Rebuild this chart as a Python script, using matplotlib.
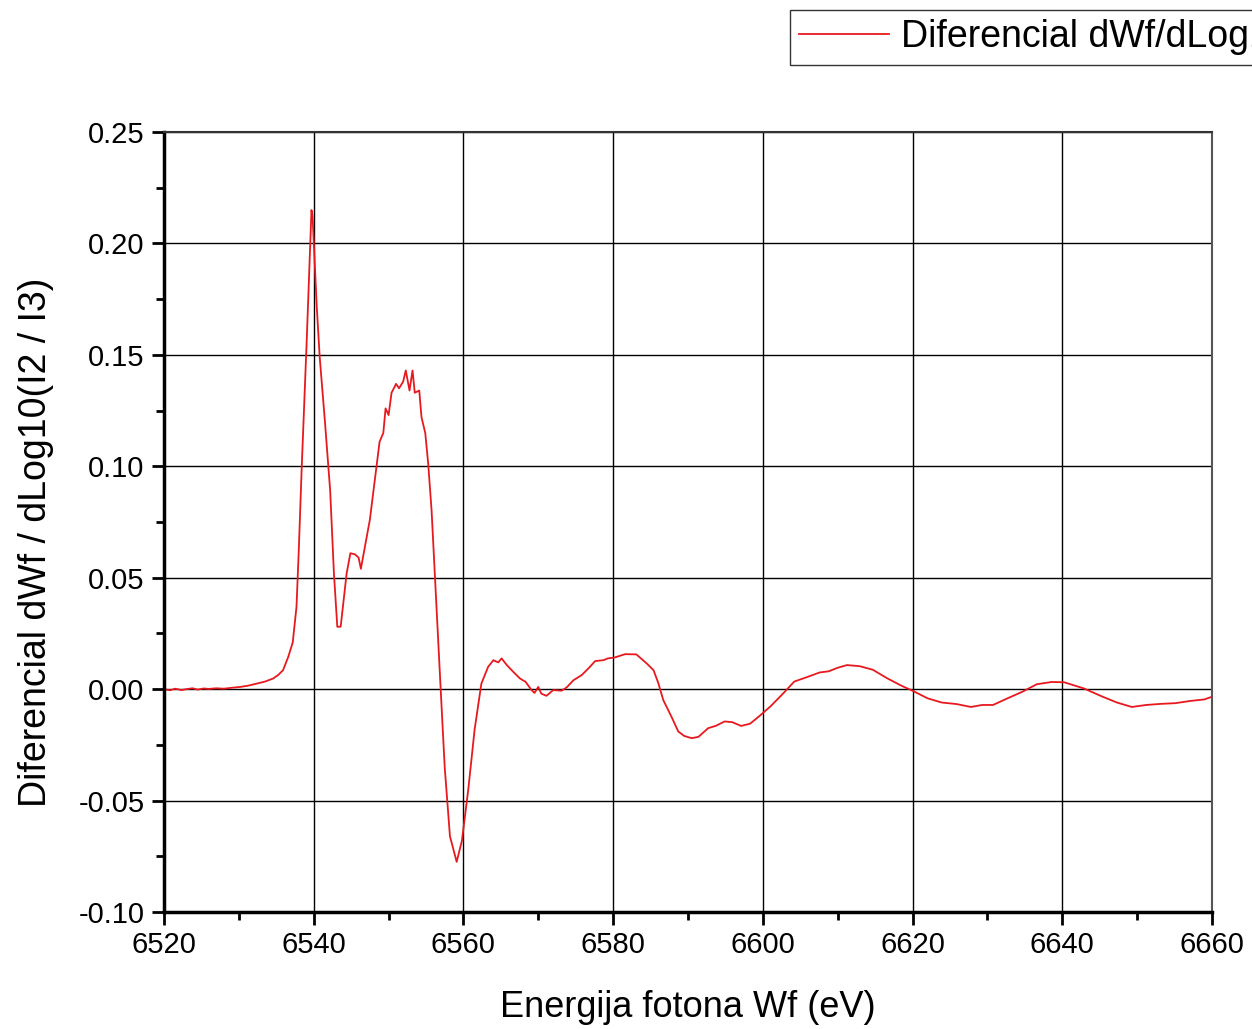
import matplotlib
matplotlib.use('Agg')
import matplotlib.pyplot as plt
from matplotlib.ticker import MultipleLocator, FormatStrFormatter

plt.rcParams['font.family'] = ['Liberation Sans', 'DejaVu Sans']
plt.rcParams['axes.unicode_minus'] = False

# energija (eV) i diferencijal, očitano sa slike
energy = [6520.0, 6520.8, 6521.5, 6522.3, 6523.0, 6523.8, 6524.5, 6525.3, 6526.0, 6527.0,
          6528.0, 6529.0, 6530.2, 6531.3, 6532.4, 6533.5, 6534.6, 6535.3, 6535.9, 6536.6,
          6537.2, 6537.7, 6538.0, 6538.4, 6539.06, 6539.5, 6539.7, 6539.85, 6540.0, 6540.4,
          6540.8, 6541.5, 6542.2, 6542.7, 6543.15, 6543.6, 6544.4, 6544.9, 6545.5, 6546.0,
          6546.3, 6546.85, 6547.5, 6548.2, 6548.8, 6549.3, 6549.6, 6550.0, 6550.4, 6551.0,
          6551.4, 6551.95, 6552.3, 6552.8, 6553.2, 6553.5, 6554.1, 6554.4, 6554.9, 6555.3,
          6555.75, 6556.2, 6556.9, 6557.5, 6558.2, 6559.1, 6559.8, 6560.65, 6561.5, 6562.4,
          6563.3, 6564.0, 6564.65, 6565.1, 6565.8, 6566.65, 6567.55, 6568.3, 6569.1, 6569.5,
          6570.0, 6570.4, 6571.1, 6572.0, 6573.1, 6573.8, 6574.7, 6575.8, 6576.7, 6577.6,
          6578.7, 6579.3, 6580.2, 6581.6, 6583.1, 6584.5, 6585.4, 6586.05, 6586.7, 6587.8,
          6588.7, 6589.5, 6590.5, 6591.4, 6592.7, 6593.7, 6594.9, 6595.9, 6597.1, 6598.3,
          6599.5, 6601.0, 6602.5, 6604.2, 6605.9, 6607.6, 6608.8, 6610.0, 6611.25, 6612.95,
          6614.7, 6616.6, 6618.6, 6620.0, 6622.0, 6623.9, 6625.9, 6627.8, 6629.3, 6630.75,
          6632.7, 6634.65, 6636.6, 6638.55, 6640.25, 6642.9, 6645.4, 6647.3, 6649.3, 6651.2,
          6653.2, 6655.1, 6657.1, 6659.0, 6660.0]
diff = [0.0, -0.0005, 0.0002, -0.0004, 0.0, 0.0004, -0.0002, 0.0003, 0.0001, 0.0004,
        0.0002, 0.0006, 0.001, 0.0016, 0.0025, 0.0034, 0.0048, 0.0065, 0.0085, 0.0145,
        0.021, 0.037, 0.062, 0.0997, 0.156, 0.196, 0.215, 0.212, 0.201, 0.172,
        0.149, 0.120, 0.089, 0.052, 0.028, 0.028, 0.052, 0.061, 0.0605, 0.059,
        0.054, 0.064, 0.076, 0.095, 0.111, 0.115, 0.126, 0.123, 0.133, 0.137,
        0.135, 0.138, 0.143, 0.134, 0.143, 0.133, 0.134, 0.122, 0.115, 0.101,
        0.080, 0.050, 0.004, -0.035, -0.066, -0.0775, -0.068, -0.045, -0.018, 0.0025,
        0.010, 0.013, 0.012, 0.0138, 0.0108, 0.0078, 0.0048, 0.0033, -0.0004, -0.0017,
        0.001, -0.002, -0.003, -0.0004, -0.0007, 0.0008, 0.004, 0.0063, 0.0093, 0.0126,
        0.013, 0.0138, 0.0142, 0.0157, 0.0156, 0.0115, 0.0085, 0.0026, -0.0049, -0.0124,
        -0.019, -0.021, -0.022, -0.0214, -0.0175, -0.0165, -0.0145, -0.0148, -0.0165, -0.0155,
        -0.0122, -0.0078, -0.0027, 0.0034, 0.0054, 0.0075, 0.008, 0.0096, 0.0108, 0.0103,
        0.0087, 0.0049, 0.0014, -0.0007, -0.0041, -0.006, -0.0067, -0.008, -0.0071, -0.0071,
        -0.0041, -0.0012, 0.0022, 0.0032, 0.0031, 0.0003, -0.0034, -0.006, -0.008, -0.0071,
        -0.0066, -0.0063, -0.0053, -0.0046, -0.0034]

fig = plt.figure(figsize=(12.52, 10.29), dpi=100)
ax = fig.add_axes([0.131, 0.1137, 0.837, 0.758])

line, = ax.plot(energy, diff, color='#e8191e', linewidth=1.3, label='Diferencial dWf/dLog10(I2 / I3)')

ax.set_xlim(6520, 6660)
ax.set_ylim(-0.10, 0.25)
ax.xaxis.set_major_locator(MultipleLocator(20))
ax.xaxis.set_minor_locator(MultipleLocator(10))
ax.yaxis.set_major_locator(MultipleLocator(0.05))
ax.yaxis.set_minor_locator(MultipleLocator(0.025))
ax.yaxis.set_major_formatter(FormatStrFormatter('%.2f'))

ax.grid(True, which='major', color='black', linewidth=1.0)

ax.tick_params(which='major', direction='out', length=9, width=2, labelsize=21, pad=5)
ax.tick_params(which='minor', direction='out', length=6, width=2)

ax.spines['left'].set_linewidth(2.5)
ax.spines['bottom'].set_linewidth(2.5)
ax.spines['top'].set_linewidth(1.5)
ax.spines['right'].set_linewidth(1.5)
ax.spines['top'].set_color('#333333')
ax.spines['right'].set_color('#555555')

ax.set_xlabel('Energija fotona Wf (eV)', fontsize=26)
ax.set_ylabel('Diferencial dWf / dLog10(I2 / I3)', fontsize=27)
ax.xaxis.set_label_coords(0.5, -0.1)
ax.yaxis.set_label_coords(-0.105, 0.474)

leg = fig.legend(handles=[line], loc='upper left', bbox_to_anchor=(790 / 1252, 1 - 10 / 1029),
                 fontsize=27, frameon=True, fancybox=False, edgecolor='black',
                 handlelength=2.4, handletextpad=0.3, borderpad=0.25, borderaxespad=0)
leg.get_frame().set_linewidth(1.0)

fig.savefig('out.png', dpi=100)
plt.close()
